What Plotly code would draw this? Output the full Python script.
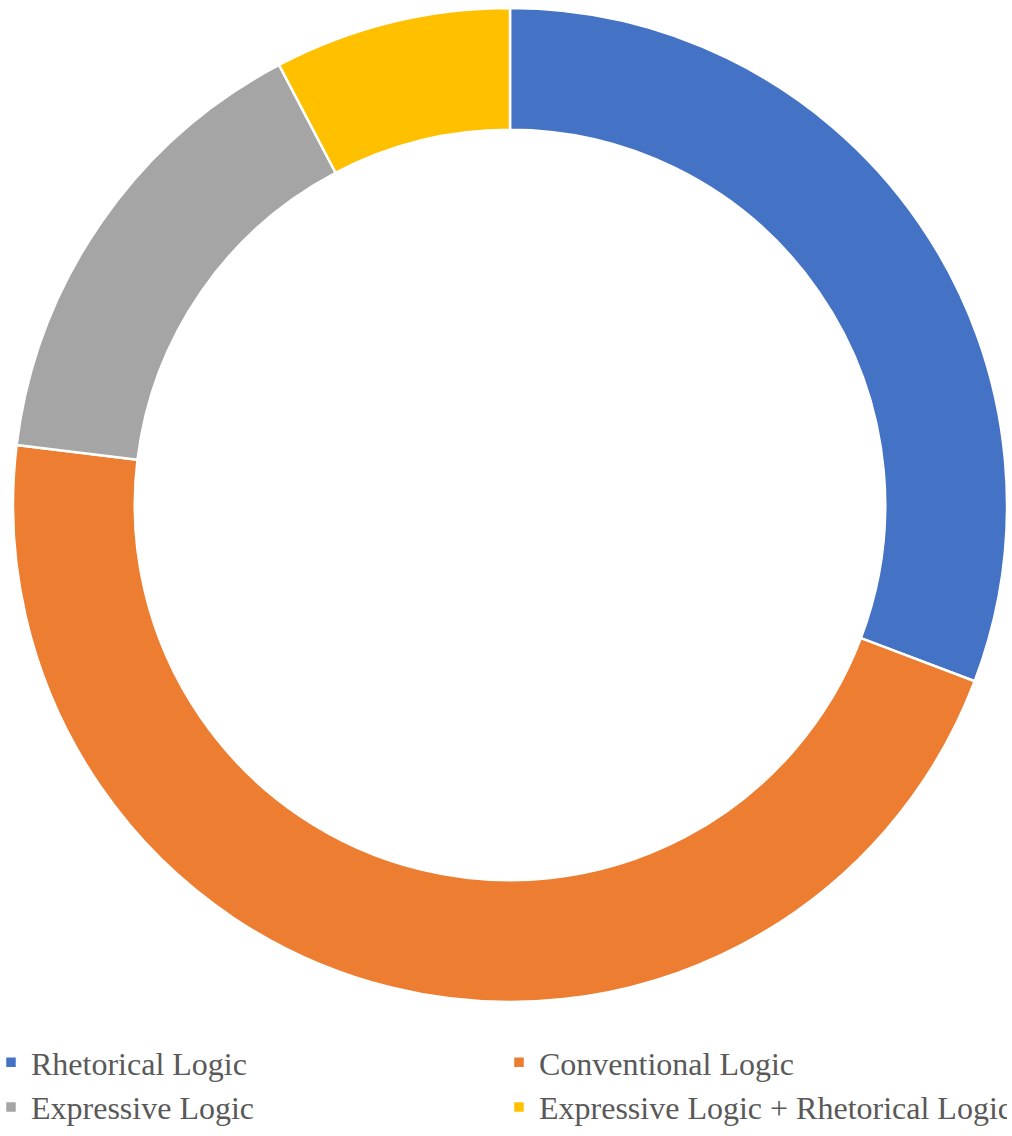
import plotly.graph_objects as go

# Share of each logic type
categories = ["Rhetorical Logic", "Conventional Logic", "Expressive Logic",
              "Expressive Logic + Rhetorical Logic"]
values = [4, 6, 2, 1]
colors = ["#4472C4", "#ED7D31", "#A5A5A5", "#FFC000"]

SERIF = "'Liberation Serif', 'Times New Roman', Times, 'DejaVu Serif', serif"
TEXT_GREY = "#595959"

fig = go.Figure(
    go.Pie(
        labels=categories,
        values=values,
        hole=0.755,
        sort=False,
        direction="clockwise",
        rotation=0,
        textinfo="none",
        hoverinfo="label+percent",
        domain=dict(x=[13 / 1012, 1007 / 1012], y=[0, 1]),
        marker=dict(colors=colors, line=dict(color="white", width=2.5)),
    )
)

fig.update_layout(
    width=1012,
    height=1136,
    paper_bgcolor="white",
    plot_bgcolor="white",
    margin=dict(l=0, r=0, t=8, b=134, autoexpand=False),
    font=dict(family=SERIF, color=TEXT_GREY, size=32),
    showlegend=True,
    legend=dict(
        orientation="h",
        x=-0.0089,
        xanchor="left",
        y=-0.0332,
        yanchor="top",
        entrywidth=463,
        entrywidthmode="pixels",
        font=dict(family=SERIF, size=32, color=TEXT_GREY),
        bgcolor="rgba(0,0,0,0)",
    ),
)

fig.write_html("out.html")
